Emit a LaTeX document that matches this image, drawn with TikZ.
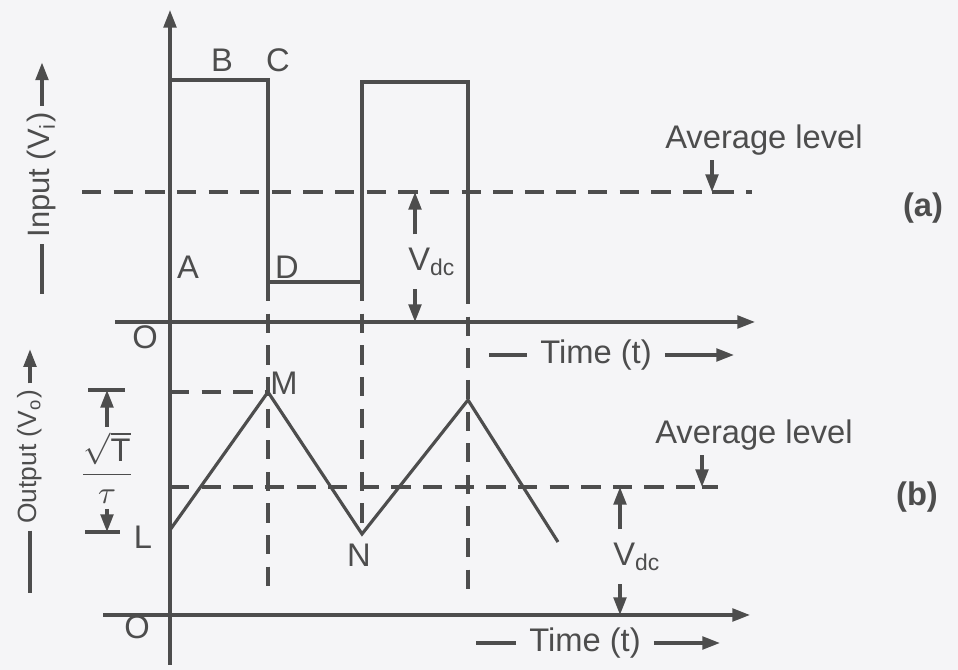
\documentclass[tikz,border=0pt]{standalone}
\usepackage{amsmath}
\usepackage{fontspec}
\setmainfont{Liberation Sans}
\usetikzlibrary{arrows.meta,positioning}
\definecolor{ink}{HTML}{4D4D4D}
\definecolor{paper}{HTML}{F5F5F7}

\begin{document}
\begin{tikzpicture}[>={Triangle[length=5pt,width=3.6pt]},line width=.9pt,color=ink,
  font=\fontsize{9.3}{11}\selectfont,
  dsh/.style={dash pattern=on 5.5pt off 3.5pt},
  axlbl/.style={rotate=90,inner sep=1.5pt}]
\fill[paper] (0,0) rectangle (9.58,6.70);
\useasboundingbox (0,0) rectangle (9.58,6.70);

% axes
\draw[->] (1.70,0.05) -- (1.70,6.60);
\draw[->] (1.15,3.48) -- (7.55,3.48);
\draw[->] (1.03,0.55) -- (7.50,0.55);
\node at (1.45,3.33) {O};
\node at (1.37,0.43) {O};

\node[axlbl,font=\fontsize{8.8}{10}\selectfont] (inp) at (0.42,4.95) {Input (V\textsubscript{i})};
\draw (inp.west) -- ++(0,-0.50);
\draw[->] (inp.east) -- ++(0,0.43);
\node[axlbl,font=\fontsize{7.5}{9}\selectfont] (outp) at (0.30,2.13) {Output (V\textsubscript{o})};
\draw (outp.west) -- ++(0,-0.62);
\draw[->] (outp.east) -- ++(0,0.34);

\node (tma) at (5.96,3.15) {Time (t)};
\draw (tma.west) -- ++(-0.38,0);
\draw[->] (tma.east) -- ++(0.69,0);
\node (tmb) at (5.85,0.27) {Time (t)};
\draw (tmb.west) -- ++(-0.40,0);
\draw[->] (tmb.east) -- ++(0.66,0);

% (a) square wave
\draw (1.70,3.48) -- (1.70,5.90) -- (2.68,5.90) -- (2.68,3.88) -- (3.62,3.88)
  -- (3.62,5.88) -- (4.68,5.88) -- (4.68,3.85);
\node at (2.22,6.10) {B};
\node at (2.78,6.10) {C};
\node at (1.88,4.03) {A};
\node at (2.87,4.03) {D};

\coordinate (ta) at (7.12,4.78);
\draw[dsh] (0.82,4.78) -- (7.52,4.78);
\draw (ta) -- ++(0.13,0);
\node[inner sep=1pt] (avga) at (7.64,5.30) {Average level};
\draw[->] (ta |- avga.south) -- (ta);
\node at (9.23,4.62) {\textbf{(a)}};

\coordinate (vt) at (4.15,4.78);
\coordinate (vb) at (4.15,3.48);
\node[anchor=west] (vdca) at (3.95,4.08) {V\textsubscript{dc}};
\draw[->] (vdca.north -| vt) -- (vt);
\draw[->] (vdca.south -| vb) -- (vb);

% (b) triangular output
\coordinate (L) at (1.70,1.40);
\coordinate (M) at (2.68,2.78);
\coordinate (N) at (3.62,1.36);
\coordinate (P) at (4.68,2.70);
\coordinate (E) at (5.58,1.28);
\draw[dsh] (2.68,3.88) -- (2.68,0.75);
\draw[dsh] (3.62,3.88) -- (N);
\draw[dsh] (4.68,3.85) -- (4.68,0.73);
\draw[dsh] (1.70,2.78) -- (M);
\draw (L) -- (M) -- (N) -- (P) -- (E);
\node at (1.43,1.33) {L};
\node at (2.84,2.87) {M};
\node at (3.59,1.15) {N};

\coordinate (tb) at (7.02,1.83);
\draw[dsh] (1.70,1.83) -- (tb);
\draw (tb) -- ++(0.16,0);
\node[inner sep=1pt] (avgb) at (7.54,2.35) {Average level};
\draw[->] (tb |- avgb.south) -- (tb);
\node at (9.17,1.73) {\textbf{(b)}};

\coordinate (wt) at (6.20,1.83);
\coordinate (wb) at (6.20,0.55);
\node[anchor=west] (vdcb) at (6.00,1.13) {V\textsubscript{dc}};
\draw[->] (vdcb.north -| wt) -- (wt);
\draw[->] (vdcb.south -| wb) -- (wb);

% swing L to M
\draw (0.88,2.80) -- (1.25,2.80);
\draw (0.85,1.38) -- (1.20,1.38);
\node[inner sep=1pt] (swing) at (1.07,2.02) {$\dfrac{\sqrt{\mathrm{T}}}{\tau}$};
\draw[->] (swing.north) -- (1.07,2.80);
\draw[->] (swing.south) -- (1.07,1.38);
\end{tikzpicture}
\end{document}
